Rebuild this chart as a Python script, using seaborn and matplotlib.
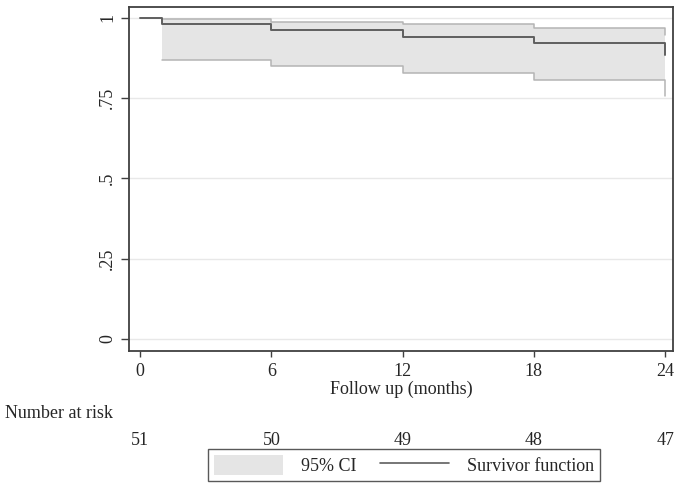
import numpy as np
import pandas as pd
import seaborn as sns
import matplotlib.pyplot as plt
from matplotlib.patches import Patch
from matplotlib.lines import Line2D
from matplotlib.transforms import blended_transform_factory

plt.switch_backend('Agg')

# Kaplan-Meier estimate
times = [0, 1, 6, 12, 18, 24]
surv = [1.0, 0.980, 0.961, 0.941, 0.922, 0.884]

# 95% CI (starts at the first event)
ci_times = [1, 6, 12, 18, 24]
ci_lower = [0.867, 0.851, 0.827, 0.805, 0.757]
ci_upper = [0.997, 0.988, 0.981, 0.968, 0.947]

# Number at risk
risk_times = [0, 6, 12, 18, 24]
at_risk = [51, 50, 49, 48, 47]

y_ticks = [0, 0.25, 0.5, 0.75, 1]
y_labels = ['0', '.25', '.5', '.75', '1']

sns.set_style('white')
plt.rcParams['font.family'] = ['Liberation Serif', 'DejaVu Serif']
FS = 13

km = pd.DataFrame({'time': times, 'surv': surv})

fig = plt.figure(figsize=(6.8, 4.9), dpi=100)
ax = fig.add_axes([0.19, 0.284, 0.80, 0.702])

# CI band
ax.fill_between(ci_times, ci_lower, ci_upper, step='post', color='#e5e5e5', linewidth=0, zorder=1)
ax.step(ci_times, ci_lower, where='post', color='#b4b4b4', lw=1.1, zorder=2)
ax.step(ci_times, ci_upper, where='post', color='#b4b4b4', lw=1.1, zorder=2)

# survivor function
sns.lineplot(data=km, x='time', y='surv', drawstyle='steps-post', color='#5f5f5f', lw=1.4, ax=ax, zorder=3)

ax.set_xlim(-0.504, 24.37)
ax.set_ylim(-0.037, 1.034)
ax.set_xticks(risk_times)
ax.set_xticklabels([str(t) for t in risk_times], fontsize=FS)
ax.set_yticks(y_ticks)
ax.set_yticklabels(y_labels, fontsize=FS, rotation=90, va='center')
ax.set_xlabel('Follow up (months)', fontsize=FS, labelpad=0.5)
ax.set_ylabel('')
ax.yaxis.grid(True, color='#e8e8e8', lw=1)
ax.xaxis.grid(False)
ax.tick_params(axis='x', direction='out', length=4, width=1, color='#404040', bottom=True, pad=4.5)
ax.tick_params(axis='y', direction='out', length=5.5, width=1, color='#404040', left=True, pad=4)
for sp in ax.spines.values():
    sp.set_color('#404040')
    sp.set_linewidth(1.3)

# number at risk table
trans = blended_transform_factory(ax.transData, fig.transFigure)
fig.text(5 / 680, 1 - 413 / 490, 'Number at risk', fontsize=FS, ha='left', va='center')
for t, n in zip(risk_times, at_risk):
    ax.text(t, 1 - 440 / 490, str(n), transform=trans, fontsize=FS, ha='center', va='center')

# legend
handles = [Patch(facecolor='#e5e5e5', edgecolor='none', label='95% CI'),
           Line2D([0], [0], color='#5f5f5f', lw=1.2, label='Survivor function')]
leg = fig.legend(handles=handles, loc='center', bbox_to_anchor=(404 / 680, 1 - 465 / 490),
                 ncol=2, fontsize=FS, frameon=True, fancybox=False, handlelength=3.8,
                 handleheight=1.35, columnspacing=1.3, borderpad=0.35, handletextpad=1.0)
leg.get_frame().set_edgecolor('#303030')
leg.get_frame().set_linewidth(1.0)

fig.savefig('out.png', dpi=100)
plt.close()
